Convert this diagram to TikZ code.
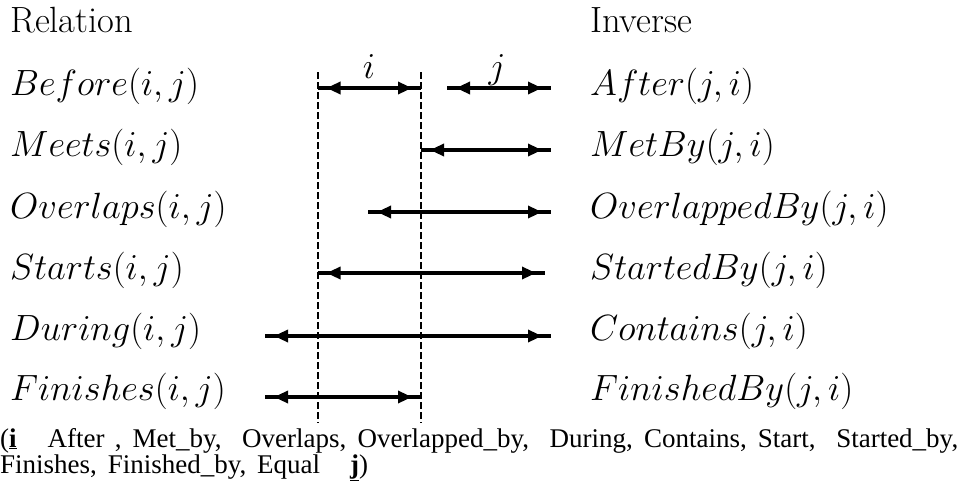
\RequirePackage{fix-cm}
\documentclass[tikz,border=0pt]{standalone}
\usepackage{fontspec}
\newfontfamily\notefont{Liberation Serif}
\usetikzlibrary{arrows.meta}

\begin{document}
\begin{tikzpicture}[x=1pt,y=-1pt,
  tip/.tip={Triangle[length=14pt,width=12pt]},
  ival/.style={line width=3.2pt,
    postaction={draw, line width=3.2pt, tip-tip, shorten <=9pt, shorten >=9pt}},
  guide/.style={line width=2pt, dash pattern=on 6.5pt off 3.5pt},
  lbl/.style={anchor=base west, inner sep=0pt, font=\fontsize{36.5}{43}\selectfont},
  tag/.style={anchor=base, inner sep=0pt, font=\fontsize{36.5}{43}\selectfont},
  note/.style={anchor=base west, inner sep=0pt, font=\notefont\fontsize{27}{32}\selectfont}]
\useasboundingbox (0,0) rectangle (963,488);

% column heads
\node[lbl] (hrel) at (10,32) {Relation};
\node[lbl] (hinv) at (590,32) {Inverse};

% relations and their inverses
\node[lbl] (r1) at (10,95)  {$Before(i,j)$};
\node[lbl] (r2) at (10,156) {$Meets(i,j)$};
\node[lbl] (r3) at (10,218) {$Overlaps(i,j)$};
\node[lbl] (r4) at (10,279) {$Starts(i,j)$};
\node[lbl] (r5) at (10,340) {$During(i,j)$};
\node[lbl] (r6) at (10,400) {$Finishes(i,j)$};

\node[lbl] (v1) at (590,95)  {$After(j,i)$};
\node[lbl] (v2) at (590,156) {$MetBy(j,i)$};
\node[lbl] (v3) at (590,218) {$OverlappedBy(j,i)$};
\node[lbl] (v4) at (590,279) {$StartedBy(j,i)$};
\node[lbl] (v5) at (590,340) {$Contains(j,i)$};
\node[lbl] (v6) at (590,400) {$FinishedBy(j,i)$};

% reference lines at the ends of interval i
\coordinate (gLt) at (317.5,72);  \coordinate (gLb) at (317.5,423);
\coordinate (gRt) at (421,72);    \coordinate (gRb) at (421,423);
\draw[guide] (gLt) -- (gLb);
\draw[guide] (gRt) -- (gRb);

% interval end points
\coordinate (i1a) at (317.5,88); \coordinate (i1b) at (421,88);
\coordinate (j1a) at (447,88);   \coordinate (j1b) at (551,88);
\coordinate (j2a) at (421,150);  \coordinate (j2b) at (551,150);
\coordinate (j3a) at (368,212);  \coordinate (j3b) at (551,212);
\coordinate (j4a) at (317.5,273);\coordinate (j4b) at (545,273);
\coordinate (j5a) at (265,336);  \coordinate (j5b) at (551,336);
\coordinate (j6a) at (265,397);  \coordinate (j6b) at (421,397);

\draw[ival] (i1a) -- (i1b);
\draw[ival] (j1a) -- (j1b);
\draw[ival] (j2a) -- (j2b);
\draw[ival] (j3a) -- (j3b);
\draw[ival] (j4a) -- (j4b);
\draw[ival] (j5a) -- (j5b);
\draw[ival] (j6a) -- (j6b);

\node[tag] (li) at (369,78) {$i$};
\node[tag] (lj) at (497,78) {$j$};

% list of relations
\node[note] (n1) at (0,447) {\makebox[958pt][s]{(\underline{\textbf{i}}\ \ \ After , Met\_by,\ \ Overlaps, Overlapped\_by,\ \ During, Contains, Start,\ \ Started\_by,}};
\node[note] (n2) at (0,473) {\makebox[368pt][s]{Finishes, Finished\_by, Equal\ \ \ \underline{\textbf{j}})}};
\end{tikzpicture}
\end{document}
